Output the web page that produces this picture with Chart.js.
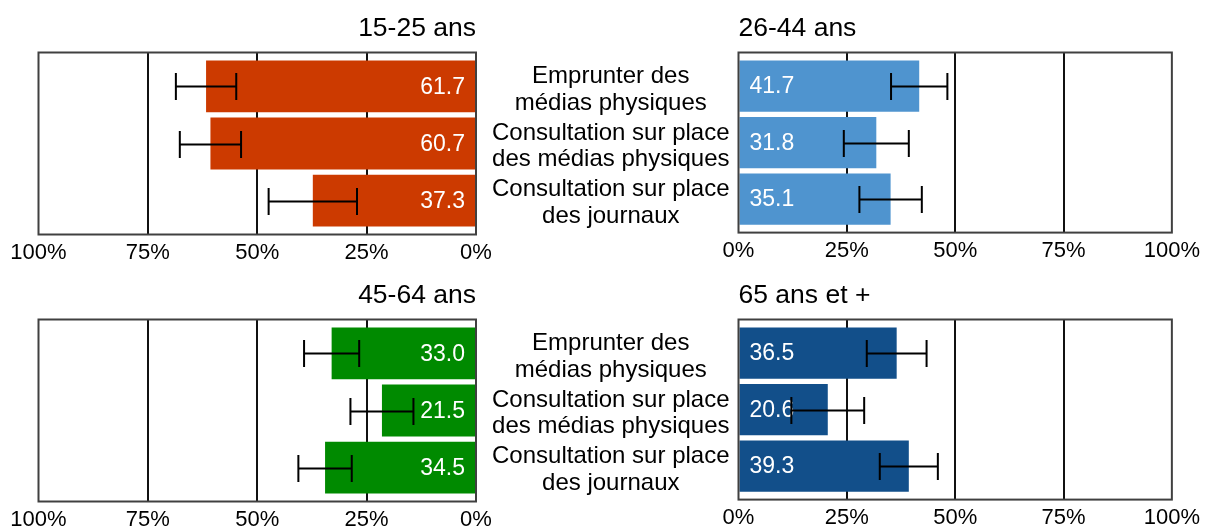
<!DOCTYPE html>
<html lang="fr">
<head>
<meta charset="UTF-8" />
<title>Usage des médias par âge</title>
<script src="https://cdn.jsdelivr.net/npm/chart.js"></script>
<style>
    body { margin: 0; background: #fff; overflow: hidden; }
    #wrap { position: relative; width: 1205px; height: 529px; }
    canvas { position: absolute; }
</style>
</head>
<body>

<div id="wrap">
    <canvas id="c1525" width="500" height="268" style="left:0;top:0"></canvas>
    <canvas id="c2644" width="735" height="268" style="left:470px;top:0"></canvas>
    <canvas id="c4564" width="500" height="268" style="left:0;top:267px"></canvas>
    <canvas id="c65" width="735" height="268" style="left:470px;top:267px"></canvas>
</div>

<script>
    // Catégories (libellés au centre)
    const categories = [
        ['Emprunter des', 'médias physiques'],
        ['Consultation sur place', 'des médias physiques'],
        ['Consultation sur place', 'des journaux']
    ];
    const titles = ['15-25 ans', '26-44 ans', '45-64 ans', '65 ans et +'];

    // Valeurs (%) et demi-largeur des barres d'erreur
    const values1525 = [61.7, 60.7, 37.3];
    const errors1525 = [6.9, 7.0, 10.1];
    const values2644 = [41.7, 31.8, 35.1];
    const errors2644 = [6.5, 7.5, 7.2];
    const values4564 = [33.0, 21.5, 34.5];
    const errors4564 = [6.3, 7.2, 6.1];
    const values65 = [36.5, 20.6, 39.3];
    const errors65 = [6.9, 8.4, 6.7];

    const colors = ['#CC3A00', '#4F94CF', '#008A00', '#124F8A'];

    Chart.defaults.font.family = 'Arial, "Liberation Sans", sans-serif';
    Chart.defaults.color = '#000';

    // cadre + étiquettes + barres d'erreur
    const overlayPlugin = {
        id: 'overlay',
        afterDatasetsDraw(chart) {
            const ctx = chart.ctx;
            const area = chart.chartArea;
            const xs = chart.scales.x;
            const mirrored = xs.options.reverse;
            const meta = chart.getDatasetMeta(0);
            const ds = chart.data.datasets[0];

            ctx.save();
            ctx.strokeStyle = '#404040';
            ctx.lineWidth = 2;
            ctx.strokeRect(area.left, area.top, area.right - area.left, area.bottom - area.top);

            ctx.font = '23px Arial, "Liberation Sans", sans-serif';
            ctx.fillStyle = '#fff';
            ctx.textBaseline = 'middle';
            ctx.textAlign = mirrored ? 'right' : 'left';
            meta.data.forEach((bar, i) => {
                const x = mirrored ? bar.base - 10 : bar.base + 10;
                ctx.fillText(ds.data[i].x.toFixed(1), x, bar.y + 1);
            });

            ctx.strokeStyle = '#000';
            ctx.lineWidth = 2;
            meta.data.forEach((bar, i) => {
                const v = ds.data[i].x;
                const e = ds.errors[i];
                const x1 = xs.getPixelForValue(v - e);
                const x2 = xs.getPixelForValue(v + e);
                const y = Math.round(bar.y) + 0.5;
                ctx.beginPath();
                ctx.moveTo(x1, y); ctx.lineTo(x2, y);
                ctx.moveTo(x1, y - 13.5); ctx.lineTo(x1, y + 13.5);
                ctx.moveTo(x2, y - 13.5); ctx.lineTo(x2, y + 13.5);
                ctx.stroke();
            });
            ctx.restore();
        }
    };

    function makeChart(id, title, values, errors, color, mirrored) {
        new Chart(document.getElementById(id), {
            type: 'bar',
            data: {
                datasets: [{
                    data: values.map((v, i) => ({ x: v, y: i })),
                    errors: errors,
                    backgroundColor: color,
                    borderWidth: 0,
                    barPercentage: 0.907,
                    categoryPercentage: 1
                }]
            },
            options: {
                indexAxis: 'y',
                responsive: false,
                animation: false,
                layout: {
                    padding: mirrored
                        ? { left: 38.5, right: 24, top: 0, bottom: 1.5 }
                        : { left: 6.5, right: 29, top: 0, bottom: 1.5 }
                },
                plugins: {
                    legend: { display: false },
                    tooltip: { enabled: false },
                    title: {
                        display: true,
                        text: title,
                        align: mirrored ? 'end' : 'start',
                        fullSize: false,
                        color: '#000',
                        font: { size: 26.5, weight: 'normal', lineHeight: 1.2 },
                        padding: { top: 13, bottom: 7.7 }
                    }
                },
                scales: {
                    x: {
                        type: 'linear',
                        min: 0,
                        max: 100,
                        reverse: mirrored,
                        ticks: { stepSize: 25, callback: v => v + '%', color: '#000', font: { size: 22 }, padding: 5 },
                        grid: {
                            drawTicks: false,
                            lineWidth: 2,
                            color: c => (c.tick && c.tick.value % 100 === 0) ? 'rgba(0,0,0,0)' : '#111'
                        },
                        border: { display: false },
                        afterFit: s => { s.height = 32; }
                    },
                    y: {
                        type: 'linear',
                        min: -0.593,
                        max: 2.593,
                        reverse: true,
                        offset: false,
                        display: !mirrored,
                        // libellés légèrement sous le centre des barres, comme l'original
                        afterBuildTicks: s => { s.ticks = categories.map((c, i) => ({ value: i + 0.07 })); },
                        afterFit: s => { if (!mirrored) s.width = 262; },
                        grid: { display: false, drawTicks: false, offset: false },
                        border: { display: false },
                        ticks: {
                            autoSkip: false,
                            crossAlign: 'center',
                            padding: 9,
                            color: '#000',
                            font: { size: 24, lineHeight: 1.1 },
                            callback: v => categories[Math.round(v)]
                        }
                    }
                }
            },
            plugins: [overlayPlugin]
        });
    }

    makeChart('c1525', titles[0], values1525, errors1525, colors[0], true);
    makeChart('c2644', titles[1], values2644, errors2644, colors[1], false);
    makeChart('c4564', titles[2], values4564, errors4564, colors[2], true);
    makeChart('c65', titles[3], values65, errors65, colors[3], false);
</script>

</body>
</html>
